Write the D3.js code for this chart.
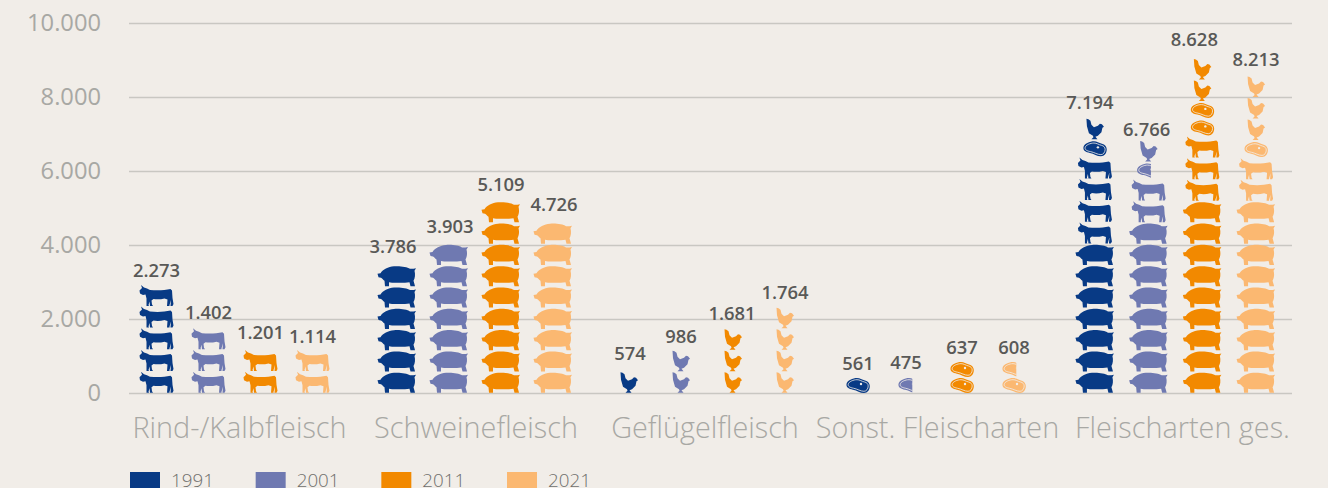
<!DOCTYPE html>
<html><head><meta charset="utf-8">
<script src="https://cdn.jsdelivr.net/npm/d3@7/dist/d3.min.js"></script>
<style>
html,body{margin:0;padding:0;background:#f1ede8;overflow:hidden}
svg{display:block;font-family:"Open Sans",sans-serif}
</style></head><body><svg id="c" width="1328" height="488"></svg>
<script>
const categories = ["Rind-/Kalbfleisch","Schweinefleisch","Geflügelfleisch","Sonst. Fleischarten","Fleischarten ges."];
const years = ["1991","2001","2011","2021"];
const values1991 = [2273,3786,574,561,7194];
const values2001 = [1402,3903,986,475,6766];
const values2011 = [1201,5109,1681,637,8628];
const values2021 = [1114,4726,1764,608,8213];
const yTicks = [0,2000,4000,6000,8000,10000];
// icons drawn in each column, bottom to top: [type, count]
const icons1991 = [[["cow",5]],[["pig",6]],[["chicken",1]],[["steakLoose",1]],[["pig",7],["cow",4],["steak",1],["chicken",1]]];
const icons2001 = [[["cow",3]],[["pig",7]],[["chicken",2]],[["steakLoose",0.6]],[["pig",8],["cow",2],["steak",0.6],["chicken",1]]];
const icons2011 = [[["cow",2]],[["pig",9]],[["chicken",3]],[["steakLoose",2]],[["pig",9],["cow",3],["steak",2],["chicken",2]]];
const icons2021 = [[["cow",2]],[["pig",8]],[["chicken",4]],[["steakLoose",1.6]],[["pig",9],["cow",2],["steak",1],["chicken",3]]];

const colors = ["#083a85","#6f79b1","#f28900","#fbb871"];
const bg = "#f1ede8";
const iconUnit = {cow:586,pig:576,steak:473,steakLoose:433,chicken:581};
const steakPath = "M-11.5,-1.5 C-11,-5 -5,-7.5 -1,-7.5 C2,-7.5 4,-5.8 7,-5 C10,-4.2 11.8,-2 11.8,0.5 C11.8,4.5 9.5,7.5 6,7.5 C2,7.5 -1,5 -5,4.2 C-9,3.4 -12,2 -11.5,-1.5 Z";
const steakInner = "M-9.8,-1.2 C-9.4,-3.8 -4.5,-5.8 -1,-5.8 C1.8,-5.8 3.6,-4.2 6.5,-3.5 C8.8,-3 10.2,-1.5 10.2,0.5 C10.2,3.2 8.5,5.8 6,5.8 C2.5,5.8 -0.5,3.5 -4.6,2.7 C-7.8,2.1 -10.2,1 -9.8,-1.2 Z";
const shapes = {
 cow:"M-17,-5.5 L-14.5,-8 L-15.5,-11 L-12.5,-8.5 L-9.5,-7.5 L-6.5,-6 C0,-5.5 8,-5.5 14,-7 L15.5,-5.5 L16,2 L17,8 L16,10 L14,10 L14.5,4 L13,9 L13,10 L10.5,10 L11,3.5 L8,2.5 C4,3.5 0,3.5 -3,3 L-5,4.5 L-4.5,8.5 L-3.5,10 L-6.5,10 L-7,5.5 L-8,9 L-7.5,10 L-10,10 L-10,2.5 L-11,-1.5 L-13.5,-1 L-16.5,-2.5 Z",
 pig:"M-19.5,-2.5 L-16.5,-3 C-14,-7 -9,-9.5 -3,-10 C3,-10.5 10,-9.5 13,-7.5 L16.5,-7.5 L19,-8 L17.5,-5.5 C18.5,-2 18,2 16.5,4.5 L17.5,8 L18,10 L13.5,10 L12.5,6 L8,6.5 L-5,6.5 L-8,6 L-8,10 L-12,10 L-12.5,4.5 C-14,3.5 -15,2 -16,1.5 L-18.5,1 Z",
 chicken:"M-8.5,-10.5 L-6.5,-10 L-4.5,-8.5 L-3.5,-4.5 L-1,-2 L3,-3.5 L5,-5.5 L7,-5 L9,-2.5 L7.5,-1.5 L6.5,3 L3,6.5 L0.5,7.5 L2.5,10 L-3.5,10 L-1.5,8 L-2,6.5 L-6,4 L-8,-3 Z",
 steak:steakPath, steakLoose:steakPath
};
const margin = {left:129,right:36};
const svg = d3.select("#c");
const defs = svg.append("defs");
const y = d3.scaleLinear().domain([0,10000]).range([393.5,23.5]);
const catX = d3.scaleOrdinal(categories,[234.5,475,707,936,1175.5]);
const catSpread = d3.scaleOrdinal(categories,[1,1,1,1,1.033]);
const labelX = d3.scaleOrdinal(categories,[239.5,476,705,937.5,1182.5]);
const yearOff = d3.scalePoint(years,[-78,78]);
const de = d3.formatLocale({decimal:",",thousands:".",grouping:[3],currency:["","€"]});
const fmt = de.format(",d");

svg.append("g").selectAll("line").data(yTicks).join("line")
 .attr("x1",margin.left).attr("x2",1328-margin.right)
 .attr("y1",d=>y(d)).attr("y2",d=>y(d))
 .attr("stroke","#c9c7c2").attr("stroke-width",1.4);
svg.append("g").selectAll("text").data(yTicks).join("text")
 .attr("x",101).attr("y",d=>y(d)+7).attr("text-anchor","end")
 .attr("font-size",23.7).attr("fill","#a8a8a4").text(fmt);
svg.append("g").selectAll("text").data(categories).join("text")
 .attr("x",d=>labelX(d)).attr("y",438).attr("text-anchor","middle")
 .attr("font-size",28.8).attr("font-weight",300).attr("fill","#a8a8a4").text(d=>d);

const allValues = [values1991,values2001,values2011,values2021];
const allIcons = [icons1991,icons2001,icons2011,icons2021];
// fine placement of the value labels over their stacks
const labelDx = [[0,-4,1,0,-5],[0,1,0,-4,-2],[0,0,-1,0,-8],[0,1,0,0,0]];
const labelDy = [[2,-3,-2,5,0],[0,-1,2,4,5],[-1,-1,1,5,-3],[3,-2,1,5,-1]];
let clipId = 0;
years.forEach((yr,s)=>{
 const col = svg.append("g");
 categories.forEach((cat,c)=>{
  const cx = catX(cat)+yearOff(yr)*catSpread(cat);
  let acc = 0, topY = 393;
  allIcons[s][c].forEach(([type,count])=>{
   const n = Math.ceil(count);
   for(let i=0;i<n;i++){
    const frac = (i===n-1 && count%1) ? count%1 : 1;
    const cy = y(acc+iconUnit[type]/2);
    const g = col.append("g").attr("transform",`translate(${cx},${cy})`);
    if(frac<1){
     const id = "clip"+(clipId++);
     defs.append("clipPath").attr("id",id).append("rect").attr("x",-14).attr("y",-14).attr("width",14-11.5+23*frac).attr("height",28);
     g.attr("clip-path",`url(#${id})`);
    }
    g.append("path").attr("d",shapes[type]).attr("fill",colors[s]);
    if(type.startsWith("steak")){
     g.append("path").attr("d",steakInner).attr("fill","none").attr("stroke",bg).attr("stroke-width",0.8);
     g.append("circle").attr("cx",3).attr("cy",-1.5).attr("r",1.2).attr("fill",bg);
    }
    topY = cy;
    acc += iconUnit[type];
   }
  });
  col.append("text").attr("x",cx+labelDx[s][c]).attr("y",topY-27+6.5+labelDy[s][c])
   .attr("text-anchor","middle").attr("font-size",18.4).attr("font-weight",600)
   .attr("fill","#595957").text(fmt(allValues[s][c]));
 });
});
const legendX = d3.scalePoint(years,[130,507]);
const leg = svg.append("g").selectAll("g").data(years).join("g").attr("transform",d=>`translate(${legendX(d)},472)`);
leg.append("rect").attr("width",30).attr("height",16).attr("fill",(d,i)=>colors[i]);
leg.append("text").attr("x",41).attr("y",15).attr("font-size",18.8).attr("font-weight",300).attr("fill","#6f6f6c").text(d=>d);
</script></body></html>
